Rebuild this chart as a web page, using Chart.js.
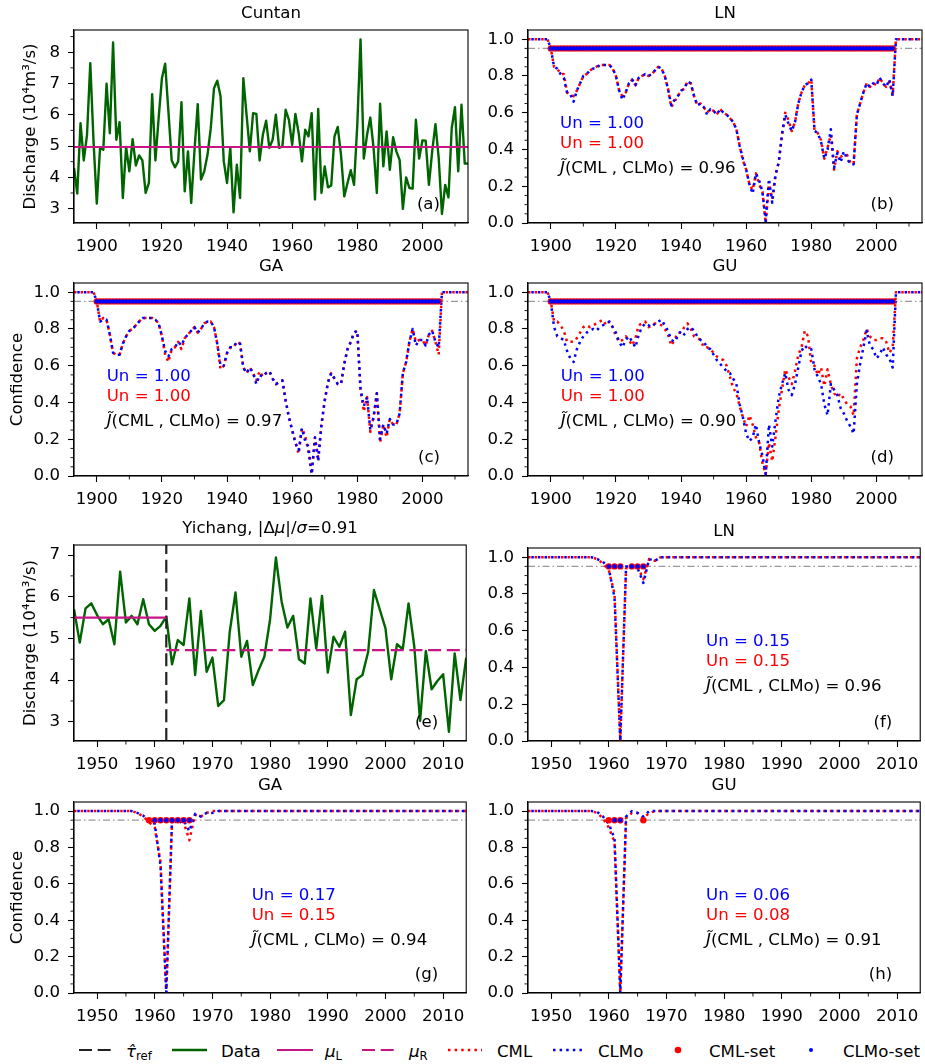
<!DOCTYPE html>
<html>
<head>
<meta charset="utf-8">
<script src="https://cdn.jsdelivr.net/npm/chart.js@4.4.1/dist/chart.umd.min.js"></script>
<style>
  body { margin: 0; background: #fff; width: 925px; height: 1064px; position: relative; overflow: hidden; }
  canvas { position: absolute; }
  #legend { position: absolute; left: 0; top: 1030px; }
</style>
</head>
<body>
<svg id="legend" width="925" height="34" font-family="DejaVu Sans" font-size="16.6" fill="#000">
  <line x1="79" y1="20" x2="112" y2="20" stroke="#222" stroke-width="2.2" stroke-dasharray="13 5.7"/>
  <text x="126" y="26.7"><tspan font-style="italic">τ̂</tspan><tspan font-size="11.6" dy="3.5">ref</tspan></text>
  <line x1="172" y1="20" x2="207" y2="20" stroke="#006400" stroke-width="2.5"/>
  <text x="221" y="26.7">Data</text>
  <line x1="277" y1="20" x2="313" y2="20" stroke="#c71585" stroke-width="2.2"/>
  <text x="325" y="26.7"><tspan font-style="italic">μ</tspan><tspan font-size="11.6" dy="3.5">L</tspan></text>
  <line x1="362" y1="20" x2="394" y2="20" stroke="#c71585" stroke-width="2.2" stroke-dasharray="13 5.7"/>
  <text x="409" y="26.7"><tspan font-style="italic">μ</tspan><tspan font-size="11.6" dy="3.5">R</tspan></text>
  <line x1="448" y1="20" x2="482" y2="20" stroke="red" stroke-width="2.5" stroke-dasharray="2.5 4.1"/>
  <text x="497" y="26.7">CML</text>
  <line x1="553" y1="20" x2="583" y2="20" stroke="blue" stroke-width="2.5" stroke-dasharray="2.5 4.1"/>
  <text x="598" y="26.7">CLMo</text>
  <circle cx="678" cy="20" r="3.3" fill="red"/>
  <text x="709" y="26.7">CML-set</text>
  <circle cx="811" cy="20" r="2" fill="blue"/>
  <text x="843" y="26.7">CLMo-set</text>
</svg>
<script>
// ---- data ----
const cuntanYears = Array.from({length: 122}, (_, i) => 1893 + i);
const yichangYears = Array.from({length: 69}, (_, i) => 1946 + i);

// Cuntan annual discharge (10^4 m3/s), 1893-2014
const cuntanQ = [
  4.30, 3.48, 5.73, 4.54, 5.36, 7.65, 5.15, 3.16, 4.94, 4.88,
  6.99, 5.41, 8.31, 5.20, 5.76, 3.34, 4.97, 4.19, 5.22, 4.38,
  4.70, 4.54, 3.50, 3.82, 6.66, 4.54, 5.90, 7.17, 7.63, 6.10,
  4.54, 4.32, 4.51, 6.40, 3.55, 4.83, 3.18, 4.85, 6.34, 3.93,
  4.19, 4.72, 5.57, 6.85, 7.09, 6.59, 4.51, 3.82, 4.94, 2.88,
  4.40, 3.34, 7.17, 6.00, 4.83, 6.05, 6.03, 4.54, 5.36, 5.81,
  4.94, 5.20, 6.00, 4.94, 4.99, 6.16, 5.84, 5.04, 6.03, 5.41,
  4.51, 5.52, 5.31, 6.05, 3.29, 6.19, 3.50, 4.35, 3.68, 3.74,
  5.31, 5.61, 4.72, 3.39, 3.82, 4.23, 3.76, 5.68, 8.41, 4.60,
  5.36, 5.91, 4.94, 3.50, 6.35, 4.35, 5.47, 4.24, 5.28, 4.83,
  4.56, 2.99, 4.00, 3.66, 3.64, 5.84, 4.60, 5.18, 5.17, 3.76,
  4.83, 5.70, 4.62, 2.83, 3.76, 3.36, 5.57, 6.24, 4.19, 6.32,
  4.44, 4.44
];
const cuntanMean = 4.97;

// Yichang annual discharge, 1946-2014
const yichangQ = [
  5.70, 4.90, 5.72, 5.84, 5.56, 5.34, 5.46, 4.86, 6.60, 5.38,
  5.54, 5.34, 5.94, 5.34, 5.18, 5.30, 5.52, 4.38, 4.96, 4.84,
  5.96, 4.12, 5.66, 4.20, 4.54, 3.38, 3.52, 5.16, 6.10, 4.56,
  4.94, 3.88, 4.24, 4.56, 5.46, 6.94, 5.88, 5.26, 5.54, 4.50,
  4.40, 5.96, 4.76, 6.02, 4.18, 5.04, 4.80, 5.16, 3.16, 4.02,
  4.12, 4.68, 6.16, 5.70, 5.24, 4.02, 4.86, 4.74, 5.84, 4.80,
  3.02, 4.70, 3.78, 3.98, 4.14, 2.76, 4.64, 3.52, 4.54
];
const yichangMuL = 5.50, yichangMuR = 4.72, tauRef = 1962;

// confidence curves, Cuntan (1893-2014)
const lnCLMoTop = [
  1, 1, 1, 1, 1, 1, 1, 0.95,
  0.85, 0.84, 0.81, 0.79, 0.71, 0.70, 0.66, 0.72, 0.76, 0.80,
  0.81, 0.83, 0.84, 0.84, 0.86, 0.86, 0.86, 0.86, 0.84, 0.80,
  0.72, 0.67, 0.71, 0.76, 0.78, 0.75, 0.79, 0.80, 0.81, 0.80,
  0.81, 0.83, 0.85, 0.84, 0.80, 0.73, 0.64, 0.67, 0.69, 0.72,
  0.73, 0.77, 0.76, 0.69, 0.64, 0.65, 0.63, 0.59, 0.62, 0.61,
  0.59, 0.62, 0.60, 0.59, 0.57, 0.55, 0.51, 0.42, 0.35, 0.29,
  0.21, 0.16, 0.27, 0.23, 0.17, 0.01, 0.24, 0.11, 0.26, 0.33,
  0.48, 0.59, 0.54, 0.50, 0.55, 0.65, 0.71, 0.75, 0.76, 0.78,
  0.50, 0.49, 0.44, 0.35, 0.40, 0.51, 0.30, 0.38, 0.33, 0.39,
  0.35, 0.32, 0.32, 0.59, 0.65, 0.71, 0.76, 0.74, 0.76, 0.75,
  0.79, 0.76, 0.74, 0.78, 0.69,
  1, 1, 1, 1, 1, 1, 1, 1, 1
];
const lnCMLTop = [
  1, 1, 1, 1, 1, 1, 1, 0.95,
  0.85, 0.84, 0.81, 0.81, 0.71, 0.70, 0.69, 0.72, 0.76, 0.80,
  0.81, 0.83, 0.84, 0.85, 0.86, 0.86, 0.86, 0.86, 0.84, 0.80,
  0.72, 0.69, 0.71, 0.76, 0.78, 0.75, 0.79, 0.80, 0.81, 0.80,
  0.81, 0.83, 0.85, 0.84, 0.80, 0.73, 0.63, 0.66, 0.69, 0.72,
  0.73, 0.77, 0.76, 0.69, 0.64, 0.65, 0.63, 0.60, 0.62, 0.61,
  0.59, 0.62, 0.60, 0.59, 0.57, 0.55, 0.51, 0.42, 0.34, 0.29,
  0.21, 0.18, 0.27, 0.21, 0.17, 0.00, 0.21, 0.13, 0.26, 0.33,
  0.48, 0.60, 0.56, 0.50, 0.55, 0.65, 0.71, 0.75, 0.76, 0.78,
  0.50, 0.49, 0.45, 0.35, 0.41, 0.48, 0.29, 0.39, 0.36, 0.37,
  0.37, 0.33, 0.32, 0.59, 0.65, 0.71, 0.76, 0.74, 0.76, 0.75,
  0.79, 0.76, 0.74, 0.77, 0.70,
  1, 1, 1, 1, 1, 1, 1, 1, 1
];
const gaCLMoTop = [
  1, 1, 1, 1, 1, 1, 1, 0.95,
  0.84, 0.85, 0.85, 0.77, 0.67, 0.66, 0.66, 0.72, 0.76, 0.79,
  0.80, 0.82, 0.84, 0.86, 0.86, 0.86, 0.86, 0.85, 0.83, 0.76,
  0.68, 0.65, 0.69, 0.70, 0.73, 0.71, 0.75, 0.77, 0.79, 0.81,
  0.78, 0.80, 0.83, 0.84, 0.84, 0.81, 0.72, 0.60, 0.60, 0.67,
  0.70, 0.70, 0.73, 0.72, 0.59, 0.56, 0.59, 0.56, 0.50, 0.55,
  0.54, 0.56, 0.57, 0.53, 0.50, 0.51, 0.52, 0.41, 0.32, 0.25,
  0.18, 0.14, 0.26, 0.19, 0.16, 0.01, 0.21, 0.08, 0.28, 0.41,
  0.51, 0.56, 0.53, 0.50, 0.50, 0.61, 0.69, 0.73, 0.78, 0.79,
  0.47, 0.38, 0.43, 0.25, 0.32, 0.45, 0.20, 0.28, 0.23, 0.31,
  0.28, 0.28, 0.34, 0.56, 0.62, 0.73, 0.80, 0.71, 0.74, 0.74,
  0.71, 0.77, 0.79, 0.73, 0.70,
  1, 1, 1, 1, 1, 1, 1, 1, 1
];
const gaCMLTop = [
  1, 1, 1, 1, 1, 1, 1, 0.95,
  0.84, 0.86, 0.85, 0.77, 0.67, 0.66, 0.66, 0.72, 0.76, 0.79,
  0.80, 0.82, 0.84, 0.86, 0.86, 0.86, 0.86, 0.85, 0.83, 0.76,
  0.66, 0.62, 0.69, 0.70, 0.73, 0.69, 0.75, 0.77, 0.79, 0.81,
  0.78, 0.80, 0.83, 0.84, 0.84, 0.81, 0.72, 0.58, 0.60, 0.67,
  0.70, 0.70, 0.73, 0.72, 0.59, 0.56, 0.59, 0.56, 0.52, 0.57,
  0.54, 0.56, 0.57, 0.53, 0.50, 0.51, 0.52, 0.41, 0.32, 0.25,
  0.18, 0.12, 0.26, 0.22, 0.13, 0.01, 0.21, 0.10, 0.28, 0.41,
  0.51, 0.56, 0.53, 0.50, 0.50, 0.61, 0.69, 0.73, 0.78, 0.79,
  0.47, 0.35, 0.43, 0.24, 0.32, 0.45, 0.18, 0.28, 0.21, 0.31,
  0.28, 0.28, 0.34, 0.56, 0.62, 0.73, 0.80, 0.73, 0.74, 0.74,
  0.71, 0.77, 0.79, 0.73, 0.66,
  1, 1, 1, 1, 1, 1, 1, 1, 1
];
const guCLMoTop = [
  1, 1, 1, 1, 1, 1, 1, 0.95,
  0.81, 0.76, 0.75, 0.74, 0.68, 0.64, 0.62, 0.69, 0.73, 0.76,
  0.78, 0.79, 0.80, 0.79, 0.81, 0.82, 0.83, 0.84, 0.81, 0.78,
  0.73, 0.70, 0.74, 0.76, 0.73, 0.70, 0.77, 0.81, 0.83, 0.82,
  0.81, 0.83, 0.84, 0.85, 0.82, 0.79, 0.74, 0.73, 0.76, 0.79,
  0.77, 0.80, 0.81, 0.79, 0.76, 0.74, 0.73, 0.70, 0.69, 0.66,
  0.63, 0.61, 0.59, 0.57, 0.56, 0.53, 0.50, 0.39, 0.32, 0.23,
  0.19, 0.21, 0.28, 0.18, 0.11, 0.01, 0.28, 0.16, 0.30, 0.43,
  0.50, 0.56, 0.47, 0.44, 0.50, 0.59, 0.68, 0.71, 0.69, 0.69,
  0.58, 0.54, 0.50, 0.39, 0.33, 0.50, 0.47, 0.44, 0.37, 0.34,
  0.30, 0.27, 0.23, 0.50, 0.61, 0.70, 0.79, 0.71, 0.69, 0.64,
  0.66, 0.70, 0.66, 0.64, 0.59,
  1, 1, 1, 1, 1, 1, 1, 1, 1
];
const guCMLTop = [
  1, 1, 1, 1, 1, 1, 1, 0.95,
  0.84, 0.84, 0.82, 0.79, 0.73, 0.73, 0.73, 0.75, 0.78, 0.81,
  0.82, 0.81, 0.82, 0.83, 0.84, 0.85, 0.82, 0.84, 0.81, 0.76,
  0.73, 0.74, 0.76, 0.74, 0.71, 0.75, 0.82, 0.83, 0.84, 0.81,
  0.82, 0.83, 0.83, 0.82, 0.80, 0.77, 0.71, 0.74, 0.78, 0.78,
  0.81, 0.83, 0.80, 0.76, 0.75, 0.74, 0.70, 0.70, 0.69, 0.67,
  0.65, 0.64, 0.63, 0.60, 0.54, 0.48, 0.45, 0.38, 0.32, 0.27,
  0.33, 0.28, 0.21, 0.18, 0.07, 0.01, 0.18, 0.08, 0.21, 0.36,
  0.47, 0.58, 0.54, 0.50, 0.57, 0.66, 0.70, 0.79, 0.76, 0.61,
  0.60, 0.55, 0.59, 0.49, 0.58, 0.50, 0.45, 0.43, 0.45, 0.42,
  0.39, 0.38, 0.33, 0.64, 0.70, 0.74, 0.80, 0.76, 0.74, 0.74,
  0.75, 0.75, 0.73, 0.67, 0.70,
  1, 1, 1, 1, 1, 1, 1, 1, 1
];
// confidence sets (years), Cuntan
const topSetYears = Array.from({length: 106}, (_, i) => 1900 + i);

// confidence curves, Yichang (1946-2014)
const lnCLMoBot = [
  1, 1, 1, 1, 1, 1, 1, 1, 1, 1, 1, 1,
  0.99, 0.975, 0.94, 0.78, 0.00, 0.95, 0.95, 0.94, 0.86, 0.99, 0.98,
  1, 1, 1, 1, 1, 1, 1, 1, 1, 1, 1, 1, 1, 1, 1, 1, 1, 1, 1, 1, 1, 1, 1,
  1, 1, 1, 1, 1, 1, 1, 1, 1, 1, 1, 1, 1, 1, 1, 1, 1, 1, 1, 1, 1, 1, 1
];
const lnCMLBot = [
  1, 1, 1, 1, 1, 1, 1, 1, 1, 1, 1, 1,
  0.99, 0.965, 0.93, 0.80, 0.00, 0.94, 0.95, 0.95, 0.88, 0.99, 0.98,
  1, 1, 1, 1, 1, 1, 1, 1, 1, 1, 1, 1, 1, 1, 1, 1, 1, 1, 1, 1, 1, 1, 1,
  1, 1, 1, 1, 1, 1, 1, 1, 1, 1, 1, 1, 1, 1, 1, 1, 1, 1, 1, 1, 1, 1, 1
];
const gaCLMoBot = [
  1, 1, 1, 1, 1, 1, 1, 1, 1, 1, 1,
  0.99, 0.975, 0.95, 0.93, 0.70, 0.00, 0.96, 0.93, 0.95, 0.89, 0.985, 0.97, 0.99, 0.99,
  1, 1, 1, 1, 1, 1, 1, 1, 1, 1, 1, 1, 1, 1, 1, 1, 1, 1, 1, 1, 1, 1,
  1, 1, 1, 1, 1, 1, 1, 1, 1, 1, 1, 1, 1, 1, 1, 1, 1, 1, 1, 1, 1, 1
];
const gaCMLBot = [
  1, 1, 1, 1, 1, 1, 1, 1, 1, 1, 1,
  0.99, 0.97, 0.94, 0.91, 0.72, 0.00, 0.95, 0.95, 0.94, 0.84, 0.98, 0.97, 0.99, 1,
  1, 1, 1, 1, 1, 1, 1, 1, 1, 1, 1, 1, 1, 1, 1, 1, 1, 1, 1, 1, 1, 1,
  1, 1, 1, 1, 1, 1, 1, 1, 1, 1, 1, 1, 1, 1, 1, 1, 1, 1, 1, 1, 1, 1
];
const guCLMoBot = [
  1, 1, 1, 1, 1, 1, 1, 1, 1, 1, 1, 1,
  0.995, 0.97, 0.93, 0.85, 0.00, 0.97, 1, 0.99, 0.97, 1,
  1, 1, 1, 1, 1, 1, 1, 1, 1, 1, 1, 1, 1, 1, 1, 1, 1, 1, 1, 1, 1, 1, 1, 1,
  1, 1, 1, 1, 1, 1, 1, 1, 1, 1, 1, 1, 1, 1, 1, 1, 1, 1, 1, 1, 1, 1, 1
];
const guCMLBot = [
  1, 1, 1, 1, 1, 1, 1, 1, 1, 1, 1, 1,
  0.99, 0.96, 0.91, 0.83, 0.00, 0.96, 0.99, 0.99, 0.96, 0.99,
  1, 1, 1, 1, 1, 1, 1, 1, 1, 1, 1, 1, 1, 1, 1, 1, 1, 1, 1, 1, 1, 1, 1, 1,
  1, 1, 1, 1, 1, 1, 1, 1, 1, 1, 1, 1, 1, 1, 1, 1, 1, 1, 1, 1, 1, 1, 1
];
// confidence sets (years), Yichang
const lnSetCML = [1960, 1961, 1962, 1964, 1965, 1966];
const lnSetCLMo = [1960, 1961, 1962, 1964, 1965, 1966];
const gaSetCML = [1959, 1960, 1961, 1962, 1963, 1964, 1965, 1966];
const gaSetCLMo = [1960, 1961, 1962, 1963, 1964, 1965, 1966];
const guSetCML = [1960, 1961, 1962, 1966];
const guSetCLMo = [1961, 1962];

const setLevel = 0.95;
const topXTicks = [1900, 1920, 1940, 1960, 1980, 2000];
const topXMinor = [1910, 1930, 1950, 1970, 1990, 2010];
const botXTicks = [1950, 1960, 1970, 1980, 1990, 2000, 2010];
const botXMinor = [1955, 1965, 1975, 1985, 1995, 2005];
const confTicks = [0, 0.2, 0.4, 0.6, 0.8, 1.0];
const confMinor = [0.05, 0.1, 0.15, 0.25, 0.3, 0.35, 0.45, 0.5, 0.55, 0.65, 0.7, 0.75, 0.85, 0.9, 0.95];

// ---- drawing ----
const FONT = '"DejaVu Sans", sans-serif';
const FS = 16.6;
Chart.defaults.font.family = FONT;
Chart.defaults.font.size = FS;
Chart.defaults.color = '#000';

const GREEN = '#006400', MAG = '#c71585';
const DOT = [2.5, 4.1];

function pts(xs, ys) { return xs.map((x, i) => ({x, y: ys[i]})); }

function lineDs(data, color, width, order, extra) {
  return Object.assign({data, showLine: true, borderColor: color, borderWidth: width,
    pointRadius: 0, tension: 0, borderJoinStyle: 'round', order}, extra || {});
}
function dotDs(years, color, r, order) {
  return {data: years.map(x => ({x, y: setLevel})), showLine: false, pointRadius: r,
    pointBackgroundColor: color, pointBorderWidth: 0, order};
}

function drawSegs(ctx, segs, x, y, align, color) {
  const widths = segs.map(s => {
    ctx.font = (s[1] ? 'italic ' : '') + FS + 'px ' + FONT;
    return ctx.measureText(s[0]).width;
  });
  const total = widths.reduce((a, b) => a + b, 0);
  let cx = align === 'center' ? x - total / 2 : align === 'right' ? x - total : x;
  ctx.fillStyle = color;
  ctx.textAlign = 'left';
  ctx.textBaseline = 'alphabetic';
  segs.forEach((s, i) => {
    ctx.font = (s[1] ? 'italic ' : '') + FS + 'px ' + FONT;
    ctx.fillText(s[0], cx, y);
    cx += widths[i];
  });
}

const decoPlugin = {
  id: 'deco',
  afterDatasetsDraw(chart, args, o) {
    const {ctx, chartArea: a} = chart;
    const xs = chart.scales.x, ys = chart.scales.y;
    ctx.save();
    ctx.strokeStyle = '#000';
    ctx.lineWidth = 1.1;
    ctx.strokeRect(a.left, a.top, a.right - a.left, a.bottom - a.top);
    ctx.lineWidth = 0.9;
    ctx.beginPath();
    o.xMinor.forEach(v => {
      const px = xs.getPixelForValue(v);
      ctx.moveTo(px, a.bottom); ctx.lineTo(px, a.bottom + 3.5);
    });
    o.yMinor.forEach(v => {
      const py = ys.getPixelForValue(v);
      ctx.moveTo(a.left, py); ctx.lineTo(a.left - 3.5, py);
    });
    ctx.stroke();
    drawSegs(ctx, o.title, (a.left + a.right) / 2, a.top - 12.5, 'center', '#000');
    drawSegs(ctx, [[o.letter, 0]], a.right - 28, a.bottom - 14, 'right', '#000');
    const lineY = [97.7, 118.4, 143.4];
    (o.notes || []).forEach((n, i) => drawSegs(ctx, n.segs, a.left + o.noteX, a.top + lineY[i], 'left', n.color));
    ctx.restore();
  }
};

function makePanel(p) {
  const axisW = p.left < 300 ? 74 : 60;
  const padTop = 30, padRight = 4, axisH = 36;
  const cv = document.createElement('canvas');
  cv.width = axisW + p.w + padRight;
  cv.height = padTop + p.h + axisH;
  cv.style.left = (p.left - axisW) + 'px';
  cv.style.top = (p.top - padTop) + 'px';
  document.body.appendChild(cv);
  const setTicks = vals => axis => { axis.ticks = vals.map(v => ({value: v})); };
  const grid = {drawOnChartArea: false, drawTicks: true, tickLength: 6, tickWidth: 1.1, tickColor: '#000'};
  const border = {display: true, color: '#000', width: 1.1};
  new Chart(cv, {
    type: 'scatter',
    data: {datasets: p.datasets},
    options: {
      responsive: false,
      animation: false,
      events: [],
      devicePixelRatio: 1,
      layout: {padding: {top: padTop, right: padRight, left: 0, bottom: 0}},
      plugins: {
        legend: {display: false},
        tooltip: {enabled: false},
        deco: {title: p.title, letter: p.letter, notes: p.notes, noteX: p.noteX,
               xMinor: p.xMinor, yMinor: p.yMinor}
      },
      scales: {
        x: {
          type: 'linear', min: p.xMin, max: p.xMax,
          afterBuildTicks: setTicks(p.xTicks),
          afterFit: s => { s.height = axisH; },
          ticks: {padding: 7.5, color: '#000', autoSkip: false, maxRotation: 0, callback: v => String(v)},
          grid, border
        },
        y: {
          type: 'linear', min: p.yMin, max: p.yMax,
          afterBuildTicks: setTicks(p.yTicks),
          afterFit: s => { s.width = axisW; },
          ticks: {padding: 8, color: '#000', autoSkip: false, callback: p.yFmt},
          title: {display: !!p.yTitle, text: p.yTitle || '', color: '#000',
                  padding: {top: p.yTitlePad || 0, bottom: 0}},
          grid, border
        }
      }
    },
    plugins: [decoPlugin]
  });
}

function confPanel(o) {
  const years = o.years;
  makePanel(Object.assign({
    xMin: years[0], xMax: years[years.length - 1],
    yMin: 0, yMax: 1.05, yTicks: confTicks, yMinor: confMinor,
    yFmt: v => v.toFixed(1),
    w: 394,
    datasets: [
      lineDs(pts([years[0], years[years.length - 1]], [setLevel, setLevel]), '#999', 1.2, 10, {borderDash: [7, 3, 1.5, 3]}),
      lineDs(pts(years, o.cml), 'red', 2.5, 6, {borderDash: DOT}),
      lineDs(pts(years, o.clmo), 'blue', 2.5, 5, {borderDash: DOT, borderDashOffset: 3.3}),
      dotDs(o.setCML, 'red', 3.2, 4),
      dotDs(o.setCLMo, 'blue', 2.2, 3)
    ],
    notes: [
      {segs: [['Un = ' + o.unCLMo, 0]], color: 'blue'},
      {segs: [['Un = ' + o.unCML, 0]], color: 'red'},
      {segs: [['J\u0303', 1], ['(CML , CLMo) = ' + o.jac, 0]], color: '#000'}
    ]
  }, o));
}

// (a) Cuntan
makePanel({
  left: 74, top: 30, w: 394, h: 193,
  xMin: 1893, xMax: 2014, xTicks: topXTicks, xMinor: topXMinor,
  yMin: 2.54, yMax: 8.71, yTicks: [3, 4, 5, 6, 7, 8], yMinor: [3.5, 4.5, 5.5, 6.5, 7.5, 8.5],
  yFmt: v => String(v), yTitle: 'Discharge (10⁴m³/s)', yTitlePad: 21,
  title: [['Cuntan', 0]], letter: '(a)',
  datasets: [
    lineDs(pts(cuntanYears, cuntanQ), GREEN, 2.4, 5),
    lineDs(pts([1893, 2014], [cuntanMean, cuntanMean]), MAG, 2.2, 3)
  ]
});
// (b) LN, (c) GA, (d) GU
confPanel({left: 528, top: 30, h: 193, years: cuntanYears, xTicks: topXTicks, xMinor: topXMinor,
  cml: lnCMLTop, clmo: lnCLMoTop, setCML: topSetYears, setCLMo: topSetYears,
  unCLMo: '1.00', unCML: '1.00', jac: '0.96', noteX: 32, title: [['LN', 0]], letter: '(b)'});
confPanel({left: 74, top: 283, h: 193, years: cuntanYears, xTicks: topXTicks, xMinor: topXMinor,
  cml: gaCMLTop, clmo: gaCLMoTop, setCML: topSetYears, setCLMo: topSetYears,
  unCLMo: '1.00', unCML: '1.00', jac: '0.97', noteX: 32.7, title: [['GA', 0]], letter: '(c)',
  yTitle: 'Confidence', yTitlePad: 7.5});
confPanel({left: 528, top: 283, h: 193, years: cuntanYears, xTicks: topXTicks, xMinor: topXMinor,
  cml: guCMLTop, clmo: guCLMoTop, setCML: topSetYears, setCLMo: topSetYears,
  unCLMo: '1.00', unCML: '1.00', jac: '0.90', noteX: 32.7, title: [['GU', 0]], letter: '(d)'});

// (e) Yichang
const yMinE = 2.54, yMaxE = 7.24;
makePanel({
  left: 74, top: 545, w: 394, h: 196,
  xMin: 1946, xMax: 2014, xTicks: botXTicks, xMinor: botXMinor,
  yMin: yMinE, yMax: yMaxE, yTicks: [3, 4, 5, 6, 7], yMinor: [3.5, 4.5, 5.5, 6.5],
  yFmt: v => String(v), yTitle: 'Discharge (10⁴m³/s)', yTitlePad: 21,
  title: [['Yichang, |Δ', 0], ['μ', 1], ['|/', 0], ['σ', 1], ['=0.91', 0]], letter: '(e)',
  datasets: [
    lineDs(pts(yichangYears, yichangQ), GREEN, 2.4, 5),
    lineDs(pts([tauRef, tauRef], [yMinE, yMaxE]), '#222', 2.2, 4, {borderDash: [13, 5.7]}),
    lineDs(pts([1946, tauRef], [yichangMuL, yichangMuL]), MAG, 2.2, 3),
    lineDs(pts([tauRef, 2014], [yichangMuR, yichangMuR]), MAG, 2.2, 3, {borderDash: [13, 5.7]})
  ]
});
// (f) LN, (g) GA, (h) GU
confPanel({left: 528, top: 548, h: 193, years: yichangYears, xTicks: botXTicks, xMinor: botXMinor,
  cml: lnCMLBot, clmo: lnCLMoBot, setCML: lnSetCML, setCLMo: lnSetCLMo,
  unCLMo: '0.15', unCML: '0.15', jac: '0.96', noteX: 178, title: [['LN', 0]], letter: '(f)'});
confPanel({left: 74, top: 802, h: 191, years: yichangYears, xTicks: botXTicks, xMinor: botXMinor,
  cml: gaCMLBot, clmo: gaCLMoBot, setCML: gaSetCML, setCLMo: gaSetCLMo,
  unCLMo: '0.17', unCML: '0.15', jac: '0.94', noteX: 177.7, title: [['GA', 0]], letter: '(g)',
  yTitle: 'Confidence', yTitlePad: 7.5});
confPanel({left: 528, top: 802, h: 191, years: yichangYears, xTicks: botXTicks, xMinor: botXMinor,
  cml: guCMLBot, clmo: guCLMoBot, setCML: guSetCML, setCLMo: guSetCLMo,
  unCLMo: '0.06', unCML: '0.08', jac: '0.91', noteX: 178, title: [['GU', 0]], letter: '(h)'});
</script>
</body>
</html>
